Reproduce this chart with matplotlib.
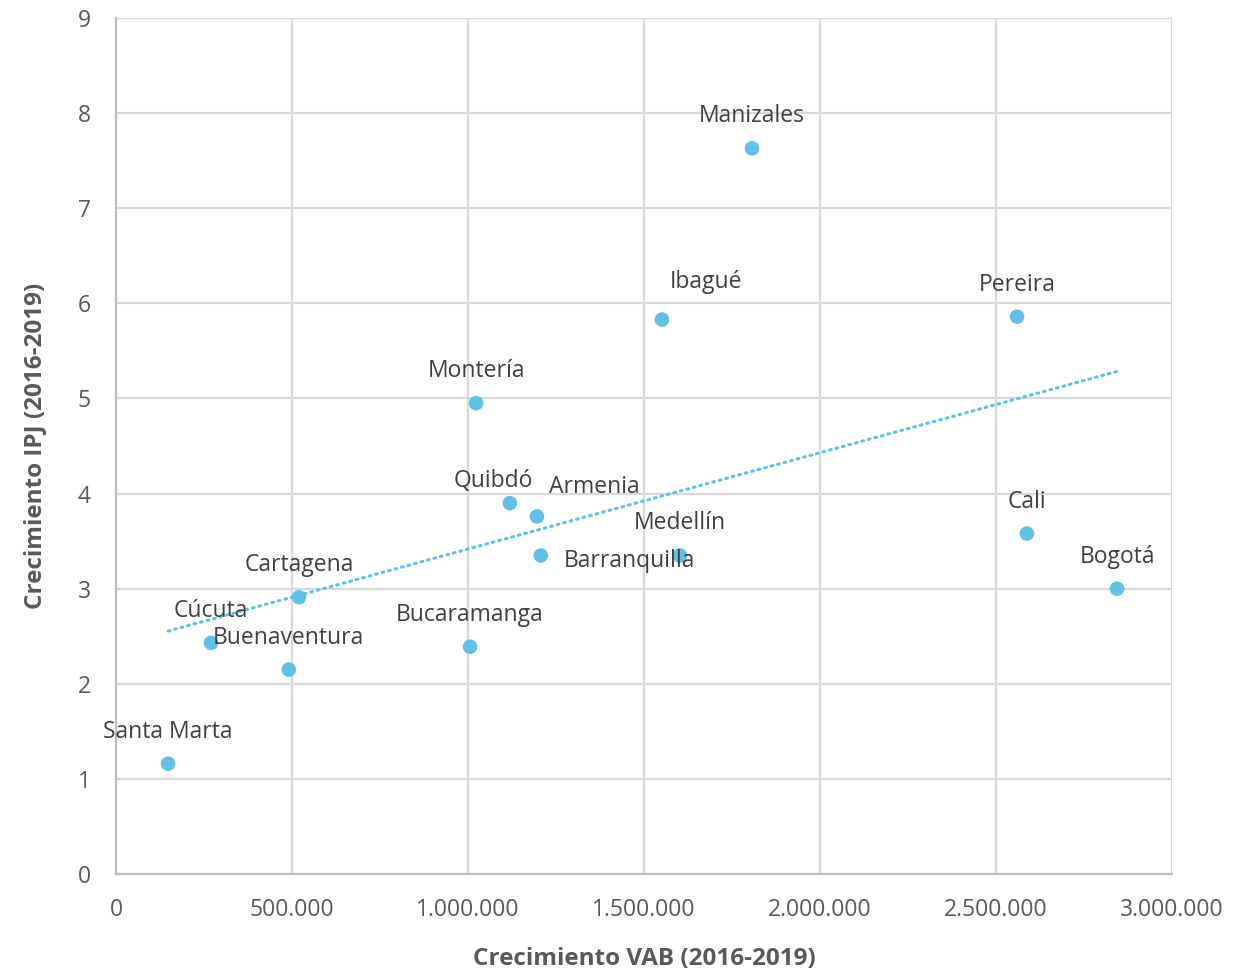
import matplotlib
matplotlib.use("Agg")
import matplotlib.pyplot as plt
import matplotlib.ticker as mticker
import numpy as np

plt.rcParams['font.family'] = ['Open Sans', 'DejaVu Sans']

ciudades = ['Santa Marta', 'Cúcuta', 'Buenaventura', 'Cartagena', 'Bucaramanga',
            'Montería', 'Quibdó', 'Armenia', 'Barranquilla', 'Ibagué', 'Medellín',
            'Manizales', 'Pereira', 'Cali', 'Bogotá']
crec_vab = [148000, 270000, 491000, 520000, 1006000,
            1023000, 1119000, 1196000, 1207000, 1551000, 1602000,
            1807000, 2560000, 2588000, 2844000]
crec_ipj = [1.16, 2.43, 2.15, 2.91, 2.39,
            4.95, 3.90, 3.76, 3.35, 5.83, 3.35,
            7.63, 5.86, 3.58, 3.00]

# label offsets in points (dx, dy)
offsets = {'Ibagué': (32, 27), 'Quibdó': (-12, 16), 'Armenia': (41, 21),
           'Barranquilla': (64, -4)}

azul = '#5fc1e8'
gris = '#595959'

fig = plt.figure(figsize=(12.58, 9.69), dpi=100)
ax = fig.add_axes([0.0922, 0.098, 0.8394, 0.8834])

ax.scatter(crec_vab, crec_ipj, s=110, color=azul, zorder=3, edgecolors='none')

# tendencia lineal
m, b = np.polyfit(crec_vab, crec_ipj, 1)
xt = np.array([min(crec_vab), max(crec_vab)])
ax.plot(xt, m * xt + b, color=azul, lw=2.2, ls=(0, (0.6, 1.6)),
        dash_capstyle='round', zorder=2)

for c, x, y in zip(ciudades, crec_vab, crec_ipj):
    dx, dy = offsets.get(c, (0, 23))
    ax.annotate(c, (x, y), xytext=(dx, dy), textcoords='offset points',
                ha='center', va='center', fontsize=16.5, color='#404040')

ax.set_xlim(0, 3000000)
ax.set_ylim(0, 9)
ax.set_xticks(np.arange(0, 3000001, 500000))
ax.set_yticks(range(0, 10))
ax.xaxis.set_major_formatter(mticker.FuncFormatter(
    lambda v, p: '0' if v == 0 else f'{int(v):,}'.replace(',', '.')))
ax.grid(True, color='#d9d9d9', lw=1.6)
ax.set_axisbelow(True)
for s in ['top', 'right']:
    ax.spines[s].set_visible(False)
for s in ['left', 'bottom']:
    ax.spines[s].set_color('#bfbfbf')
    ax.spines[s].set_linewidth(1.6)
ax.tick_params(length=0, labelsize=16.5, labelcolor=gris)
ax.tick_params(axis='y', pad=18)
ax.tick_params(axis='x', pad=17)

ax.set_xlabel('Crecimiento VAB (2016-2019)', fontsize=17.5, fontweight='bold',
              color=gris, labelpad=18)
ax.set_ylabel('Crecimiento IPJ (2016-2019)', fontsize=17.5, fontweight='bold',
              color=gris, labelpad=22)

fig.savefig('out.png', dpi=100)
